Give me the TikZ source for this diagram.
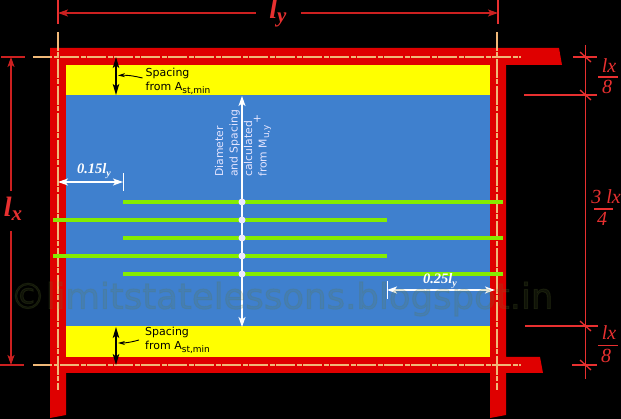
\documentclass[tikz,border=0pt]{standalone}
\usepackage{fontspec}
\setsansfont{DejaVu Sans}
\newfontfamily\wmfont[FakeBold=2.5]{DejaVu Sans}
\newfontfamily\timesf{Liberation Serif}
\usetikzlibrary{arrows.meta}
\definecolor{wallred}{HTML}{DF0000}
\definecolor{slabblue}{HTML}{3F80CE}
\definecolor{barly}{HTML}{FFFF00}
\definecolor{bargreen}{HTML}{84EC00}
\definecolor{tanline}{HTML}{F0B878}
\definecolor{dimred}{HTML}{E83030}
\definecolor{dimdark}{HTML}{CC2020}
\definecolor{wmcol}{RGB}{100,120,50}
\newcommand{\subs}[1]{\raisebox{-2.5pt}{\fontsize{9}{9}\selectfont #1}}
\tikzset{
 x=1pt,y=-1pt,
 wall/.style={fill=wallred,draw=none},
 centre/.style={draw=tanline,line width=2pt,dash pattern=on 19pt off 1.5pt on 5pt off 1.5pt},
 rebar/.style={draw=bargreen,line width=3.1pt},
 dimline/.style={draw=dimred,line width=1.3pt},
 dimmain/.style={draw=dimdark,line width=1.6pt},
 whitedim/.style={draw=white,line width=1.3pt,{Stealth[length=10pt,width=7pt,inset=2.5pt]}-{Stealth[length=10pt,width=7pt,inset=2.5pt]}},
 blackdim/.style={draw=black,line width=1.4pt,{Stealth[length=11pt,width=6.5pt,inset=2.5pt]}-{Stealth[length=11pt,width=6.5pt,inset=2.5pt]}},
 leader/.style={draw=black,line width=0.9pt,-{Stealth[length=7pt,width=4pt]}},
 dot/.style={circle,fill=white!92!blue,draw=none,minimum size=7pt,inner sep=0pt},
 note/.style={font=\sffamily\fontsize{11}{14.5}\selectfont,align=left,anchor=west,inner sep=0pt,text=black},
 rednum/.style={font=\timesf\itshape\fontsize{20}{20}\selectfont,text=dimred,inner sep=0pt},
 bigl/.style={font=\timesf\itshape\bfseries\fontsize{28}{28}\selectfont,text=dimred,inner sep=0pt},
 whitenum/.style={font=\timesf\itshape\bfseries\fontsize{14.5}{14.5}\selectfont,text=white,inner sep=0pt},
}
\begin{document}
\begin{tikzpicture}
\useasboundingbox (0,0) rectangle (621,419);
\fill[black] (0,0) rectangle (621,419);
% walls
\path[wall] (50,48) -- (559,48) -- (562,65) -- (506,65) -- (506,357) -- (540,357) -- (543,373) -- (506,373) -- (506,415) -- (490,418) -- (490,373) -- (66,373) -- (66,415) -- (50,418) -- cycle;
% slab
\fill[barly] (66,65) rectangle (490,95.5);
\fill[barly] (66,326.5) rectangle (490,357);
\fill[slabblue] (66,95.5) rectangle (490,326.5);
% centre lines
\coordinate (h1a) at (33,57); \coordinate (h1b) at (521,57);
\coordinate (h2a) at (33,365); \coordinate (h2b) at (521,365);
\coordinate (v1a) at (57.5,32); \coordinate (v1b) at (57.5,390);
\coordinate (v2a) at (497,32); \coordinate (v2b) at (497,390);
\draw[centre] (h1a) -- (h1b);
\draw[centre] (h2a) -- (h2b);
\draw[centre] (v1a) -- (v1b);
\draw[centre] (v2a) -- (v2b);
% rebars
\foreach \yy in {202,238,274}{\draw[rebar] (123,\yy) -- (503,\yy);}
\foreach \yy in {220,256}{\draw[rebar] (53,\yy) -- (387,\yy);}
% central arrow
\coordinate (ct) at (242,96); \coordinate (cb) at (242,327);
\draw[whitedim] (ct) -- (cb);
\foreach \yy in {202,220,238,256,274}{\node[dot] at (242,\yy) {};}
\node[rotate=90,font=\sffamily\fontsize{10.8}{14.5}\selectfont,text=white!90!blue,align=left,anchor=west,inner sep=0pt] (dtext) at (243,177) {Diameter\\and Spacing\\calculated\\from M\subs{u,y}\raisebox{6pt}{\,+}};
% spacing arrows
\draw[blackdim] (116,57) -- (116,95);
\draw[blackdim] (116,327) -- (116,365);
\node[note] (s1) at (145.5,81) {Spacing\\from A\subs{st,min}};
\node[note] (s2) at (145,340) {Spacing\\from A\subs{st,min}};
\draw[leader] (142.5,78) .. controls (134,76) and (128,75) .. (118,75.5);
\draw[leader] (139,340) .. controls (132,342) and (126,343) .. (118,343);
% white dims
\draw[whitedim] (58,182) -- (123,182);
\draw[draw=white,line width=1pt] (123,173) -- (123,191);
\node[whitenum] (a15) at (94,171) {0.15l\raisebox{-3pt}{\fontsize{10}{10}\selectfont y}};
\draw[whitedim] (387,290) -- (495,290);
\draw[draw=white,line width=1pt] (387,281) -- (387,299);
\node[whitenum] (a25) at (440,281) {0.25l\raisebox{-3pt}{\fontsize{10}{10}\selectfont y}};
% ly dimension
\coordinate (tl) at (58,13); \coordinate (tr) at (498,13);
\draw[dimline] (58,0) -- (58,24);
\draw[dimline] (498,0) -- (498,24);
\draw[dimmain,{Stealth[length=10pt,width=7pt,inset=2.5pt]}-] (tl) -- (256,13);
\draw[dimmain,-{Stealth[length=10pt,width=7pt,inset=2.5pt]}] (301,13) -- (tr);
\node[bigl] (ly) at (278,13) {l\raisebox{-4pt}{\fontsize{21}{21}\selectfont y}};
% lx dimension
\coordinate (lt) at (11,57); \coordinate (lb) at (11,365);
\draw[dimmain] (1,57) -- (25,57);
\draw[dimmain] (0,365) -- (24,365);
\draw[dimmain,{Stealth[length=10pt,width=7pt,inset=2.5pt]}-] (lt) -- (11,191);
\draw[dimmain,-{Stealth[length=10pt,width=7pt,inset=2.5pt]}] (11,231) -- (lb);
\node[bigl] (lx) at (13,209) {l\raisebox{-4pt}{\fontsize{21}{21}\selectfont x}};
% right dimension
\draw[dimline] (585.3,45) -- (585.3,379);
\draw[dimline] (573,57) -- (597,57);
\draw[dimline] (524,95) -- (597,95);
\draw[dimline] (525,326) -- (598,326);
\draw[dimline] (572,365) -- (597,365);
\foreach \yy in {57,95,326,365}{\draw[dimline] (580,\yy-5) -- (591,\yy+5);}
\node[rednum] (f1) at (609,66) {lx};
\draw[dimline] (598,77) -- (618,77);
\node[rednum] (f1b) at (607,87) {8};
\node[rednum] (f2) at (609,333) {lx};
\draw[dimline] (598,345.5) -- (618,345.5);
\node[rednum] (f2b) at (606,356) {8};
\node[rednum,anchor=east] (f3) at (621,197) {3 lx};
\draw[dimline] (594,209) -- (613,209);
\node[rednum] (f3b) at (602,219) {4};
% watermark
\node[font=\wmfont\fontsize{35.5}{35.5}\selectfont,text=wmcol,opacity=0.16,inner sep=0pt,anchor=west] (wm) at (10,299) {©limitstatelessons.blogspot.in};
\end{tikzpicture}
\end{document}
